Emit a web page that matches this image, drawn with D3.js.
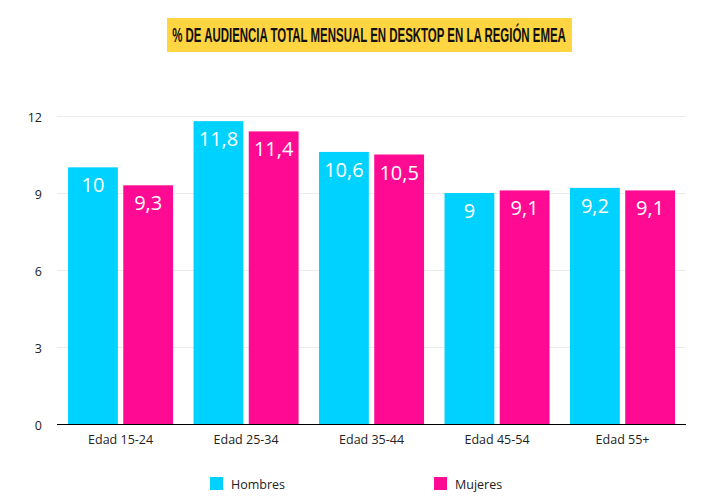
<!DOCTYPE html>
<html>
<head>
<meta charset="utf-8">
<script src="https://cdn.jsdelivr.net/npm/d3@7/dist/d3.min.js"></script>
<style>
	body { margin: 0; background: #fff; }
	text { font-family: "Open Sans", sans-serif; }
</style>
</head>
<body>
<svg id="chart" width="726" height="501"></svg>
<script>
var titulo = "% DE AUDIENCIA TOTAL MENSUAL EN DESKTOP EN LA REGIÓN EMEA";
var categorias = ["Edad 15-24", "Edad 25-34", "Edad 35-44", "Edad 45-54", "Edad 55+"];
var series = ["Hombres", "Mujeres"];
var hombres = [10, 11.8, 10.6, 9, 9.2];
var mujeres = [9.3, 11.4, 10.5, 9.1, 9.1];
var ticksY = [0, 3, 6, 9, 12];
var colores = ["#00d2ff", "#ff0a93"];

var svg = d3.select("#chart");
var coma = function(v) { return String(v).replace(".", ","); };

var x = d3.scaleBand().domain(categorias).range([57.8, 685.3]).paddingInner(0.163).paddingOuter(0.0817);
var x1 = d3.scaleBand().domain(series).range([0, x.bandwidth()]).paddingInner(0.0976);
var y = d3.scaleLinear().domain([0, 12]).range([424, 116]);

/* titulo: sin textLength, se escala al ancho de la banda amarilla */
svg.append("rect").attr("x", 167).attr("y", 18).attr("width", 405).attr("height", 34).attr("fill", "#ffd541");
var tituloText = svg.append("text")
	.attr("text-anchor", "middle")
	.style("font-family", "'Liberation Sans Narrow', 'Liberation Sans', sans-serif")
	.style("font-size", "18px").style("font-weight", "bold")
	.attr("fill", "#111").text(titulo);
var escalaX = 394 / tituloText.node().getComputedTextLength();
tituloText.attr("transform", "translate(369,41.5) scale(" + escalaX + ",1.16)");

/* grid + eje y */
svg.append("g").selectAll("line").data(ticksY.slice(1)).enter().append("line")
	.attr("x1", 57).attr("x2", 686)
	.attr("y1", function(d) { return y(d) + 0.5; }).attr("y2", function(d) { return y(d) + 0.5; })
	.attr("stroke", "#ebebeb").attr("stroke-width", 1);

var yAxis = svg.append("g").attr("transform", "translate(57,1)")
	.call(d3.axisLeft(y).tickValues(ticksY).tickSize(0).tickPadding(15));
yAxis.select(".domain").remove();
yAxis.selectAll("text").style("font-size", "12.5px").style("font-family", "'Open Sans'").attr("fill", "#222");

/* barras */
var grupos = svg.append("g").selectAll("g").data(categorias).enter().append("g")
	.attr("transform", function(d) { return "translate(" + x(d) + ",0)"; });

series.forEach(function(s, j) {
	var valores = j == 0 ? hombres : mujeres;
	grupos.append("rect")
		.attr("x", x1(s))
		.attr("width", x1.bandwidth())
		.attr("y", function(d, i) { return y(valores[i]); })
		.attr("height", function(d, i) { return y(0) - y(valores[i]); })
		.attr("fill", colores[j]);
	grupos.append("text")
		.attr("x", x1(s) + x1.bandwidth() / 2)
		.attr("y", function(d, i) { return y(valores[i]) + 25; })
		.attr("text-anchor", "middle")
		.style("font-size", "20px")
		.attr("fill", "#fff")
		.text(function(d, i) { return coma(valores[i]); });
});

/* eje x */
var xAxis = svg.append("g").attr("transform", "translate(0,424)")
	.call(d3.axisBottom(x).tickSize(0).tickPadding(11));
xAxis.select(".domain").remove();
xAxis.selectAll("text").style("font-size", "12.5px").style("font-family", "'Open Sans'").attr("fill", "#222");
svg.append("line").attr("x1", 57).attr("x2", 686).attr("y1", y(0) + 0.5).attr("y2", y(0) + 0.5)
	.attr("stroke", "#000").attr("stroke-width", 1.2);

/* leyenda */
var leyendaX = d3.scalePoint().domain(series).range([210, 434]);
var leyenda = svg.append("g").selectAll("g").data(series).enter().append("g")
	.attr("transform", function(d) { return "translate(" + leyendaX(d) + ",477)"; });
leyenda.append("rect").attr("width", 13).attr("height", 13)
	.attr("fill", function(d, i) { return colores[i]; });
leyenda.append("text").attr("x", 21).attr("y", 12)
	.style("font-size", "12.5px").attr("fill", "#222")
	.text(function(d) { return d; });
</script>
</body>
</html>
